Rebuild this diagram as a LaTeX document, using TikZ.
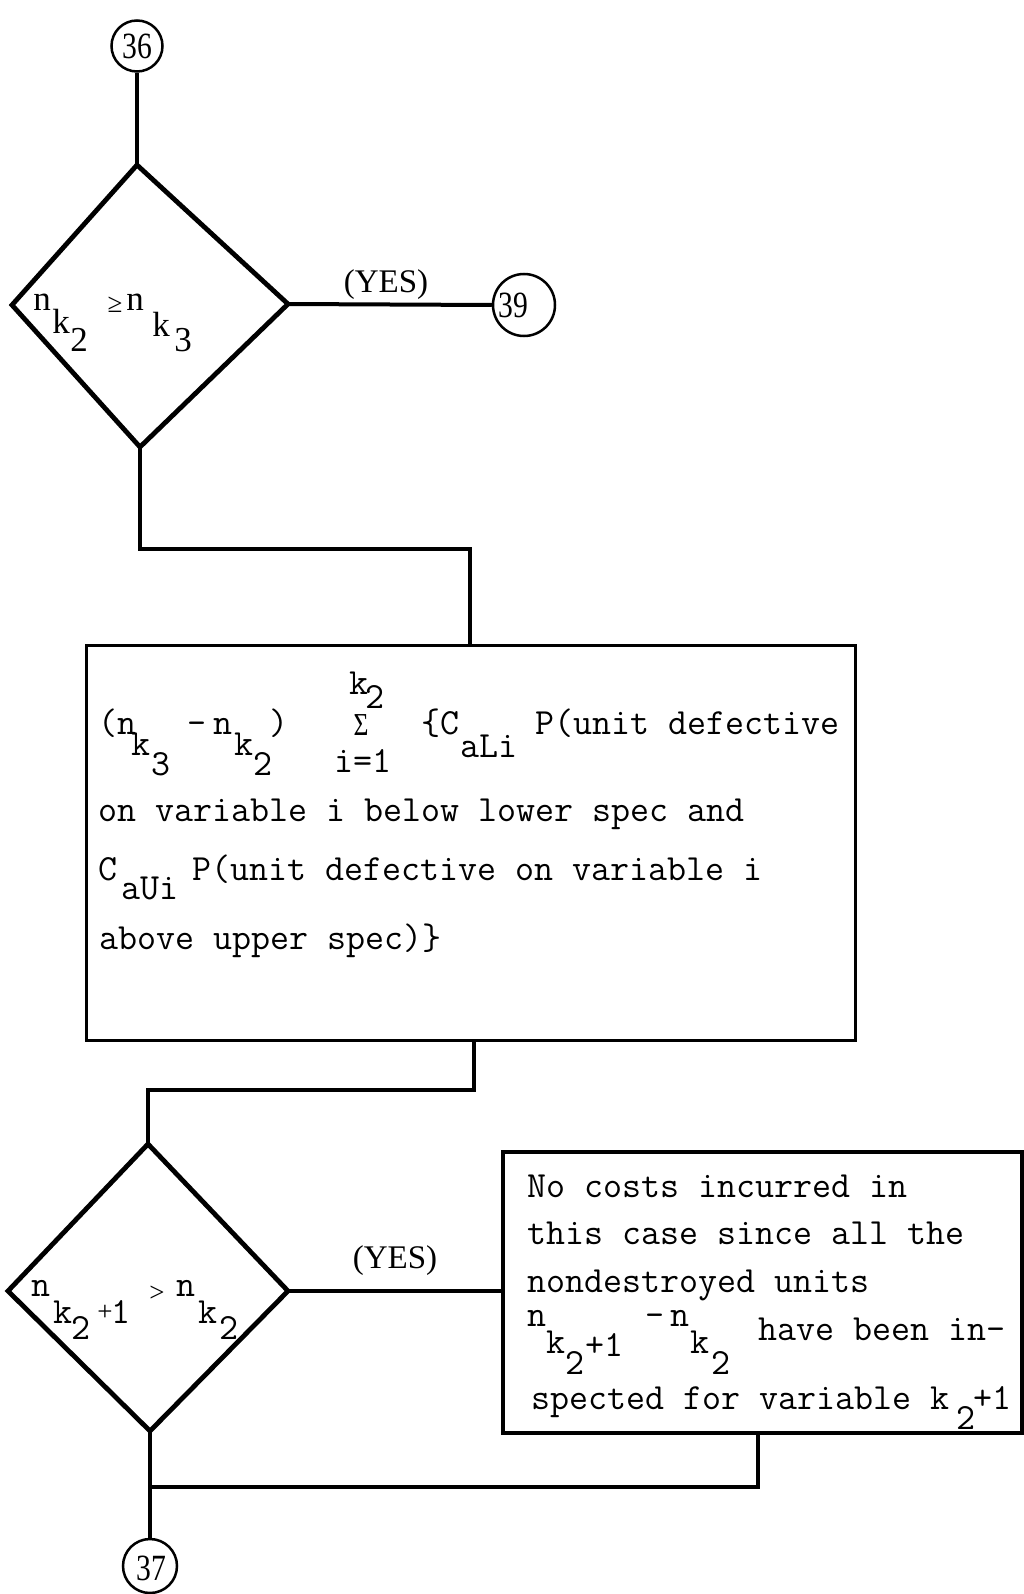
\documentclass[tikz,border=0pt]{standalone}
\usepackage{fontspec}
\usepackage{tikz}
\newfontfamily\lserif{Liberation Serif}
\tikzset{
 tw/.style={font=\fontsize{36.9}{40}\selectfont\ttfamily, inner sep=0pt, anchor=base west},
 twc/.style={font=\fontsize{36.9}{40}\selectfont\ttfamily, inner sep=0pt, anchor=base},
 dtx/.style={font=\fontsize{35}{38}\selectfont\lserif, inner sep=0pt, anchor=base},
 midsym/.style={font=\fontsize{27}{30}\selectfont\lserif, inner sep=0pt},
 sigsym/.style={font=\fontsize{32}{34}\selectfont\lserif, inner sep=0pt, xscale=0.8},
 yes/.style={font=\fontsize{33}{36}\selectfont\lserif, inner sep=0pt},
 conn/.style={line width=4pt},
 dia/.style={line width=4.8pt, line join=miter},
 boxs/.style={draw, line width=3pt, inner sep=0pt, anchor=north west},
 circ/.style={draw, circle, line width=2.5pt, inner sep=0pt},
 num/.style={font=\fontsize{37}{40}\selectfont\lserif, inner sep=0pt, xscale=0.8},
}
\begin{document}
\begin{tikzpicture}[x=1pt,y=-1pt]
\useasboundingbox (0,0) rectangle (1023,1594);
% circles
\node[circ, minimum size=51pt] (c36) at (137,46) {};
\node[num] (n36) at (c36) {36};
\node[circ, minimum size=62pt] (c39) at (524,305) {};
\node[num] (n39) at (513,305) {39};
\node[circ, minimum size=54pt] (c37) at (150,1566) {};
\node[num] (n37) at (151,1568) {37};
% diamond 1
\coordinate (d1t) at (137,165);
\coordinate (d1r) at (288,304);
\coordinate (d1b) at (140,447);
\coordinate (d1l) at (12,305);
\draw[dia] (d1t) -- (d1r) -- (d1b) -- (d1l) -- cycle;
\node[dtx] (p1) at (42,311) {n};
\node[dtx] (p2) at (61,334) {k};
\node[dtx] (p3) at (79,351) {2};
\node[midsym] (p4) at (115,305) {≥};
\node[dtx] (p5) at (135,311) {n};
\node[dtx] (p6) at (161,336) {k};
\node[dtx] (p7) at (183,351) {3};
\node[yes] (y1) at (386,285) {(YES)};
% box 1
\node[boxs, minimum width=769pt, minimum height=395pt] (b1) at (85,644) {};
\node[tw, text depth=0pt] (t1a) at (98,734) {(n};
\node[tw] (t1b) at (131,755) {k};
\node[tw] (t1c) at (151,775) {3};
\node[tw] (t1d) at (187,734) {-};
\node[tw] (t1e) at (213,734) {n};
\node[tw] (t1f) at (234,755) {k};
\node[tw] (t1g) at (253,775) {2};
\node[tw] (t1h) at (269,734) {)};
\node[tw] (t1i) at (349,694) {k};
\node[tw] (t1j) at (365,708) {2};
\node[sigsym] (t1k) at (361,725) {Σ};
\node[tw] (t1l) at (334,772) {i=1};
\node[tw] (t1m) at (421,734) {\{C};
\node[tw] (t1n) at (460,757) {aLi};
\node[tw] (t1o) at (535,734) {P(unit defective};
\node[tw] (t2) at (98,821) {on variable i below lower spec and};
\node[tw] (t3a) at (98,880) {C};
\node[tw] (t3b) at (121,899) {aUi};
\node[tw] (t3c) at (192,880) {P(unit defective on variable i};
\node[tw] (t4) at (99,949) {above upper spec)\}};
% diamond 2
\coordinate (d2t) at (148,1144);
\coordinate (d2r) at (288,1291);
\coordinate (d2b) at (150,1431);
\coordinate (d2l) at (8,1291);
\draw[dia] (d2t) -- (d2r) -- (d2b) -- (d2l) -- cycle;
\node[twc] (q1) at (41,1296) {n};
\node[twc] (q2) at (63,1323) {k};
\node[twc] (q3) at (81,1339) {2};
\node[midsym] (q4) at (105,1313) {+};
\node[twc] (q5) at (121,1323) {1};
\node[midsym] (q6) at (157,1294) {>};
\node[twc] (q7) at (186,1296) {n};
\node[twc] (q8) at (208,1323) {k};
\node[twc] (q9) at (229,1339) {2};
\node[yes] (y2) at (395,1261) {(YES)};
% box 2
\node[boxs, line width=3.5pt, minimum width=519pt, minimum height=281pt] (b2) at (501,1150) {};
\node[tw] (u1) at (527,1197) {No costs incurred in};
\node[tw] (u2) at (527,1244) {this case since all the};
\node[tw] (u3) at (527,1292) {nondestroyed units};
\node[tw] (u4a) at (527,1326) {n};
\node[tw] (u4b) at (546,1353) {k};
\node[tw] (u4c) at (565,1374) {2};
\node[tw] (u4d) at (585,1356) {+1};
\node[tw] (u4e) at (645,1326) {-};
\node[tw] (u4f) at (670,1326) {n};
\node[tw] (u4g) at (690,1353) {k};
\node[tw] (u4h) at (711,1374) {2};
\node[tw] (u4i) at (758,1340) {have been in-};
\node[tw] (u5a) at (531,1409) {spected for variable k};
\node[tw] (u5b) at (956,1429) {2};
\node[tw] (u5c) at (973,1409) {+1};
% connectors
\coordinate (j1) at (470,549);
\coordinate (j2) at (474,1090);
\coordinate (j3) at (758,1487);
\draw[conn] (c36.south) -- (d1t);
\draw[conn] (d1r) -- (c39.west);
\draw[conn] (d1b) |- (j1) -- (j1 |- b1.north);
\draw[conn] (j2 |- b1.south) -- (j2) -| (d2t);
\draw[conn] (d2r) -- (d2r -| b2.west);
\draw[conn] (j3 |- b2.south) -- (j3) -- (j3 -| d2b);
\draw[conn] (d2b) -- (c37.north);
\end{tikzpicture}
\end{document}
